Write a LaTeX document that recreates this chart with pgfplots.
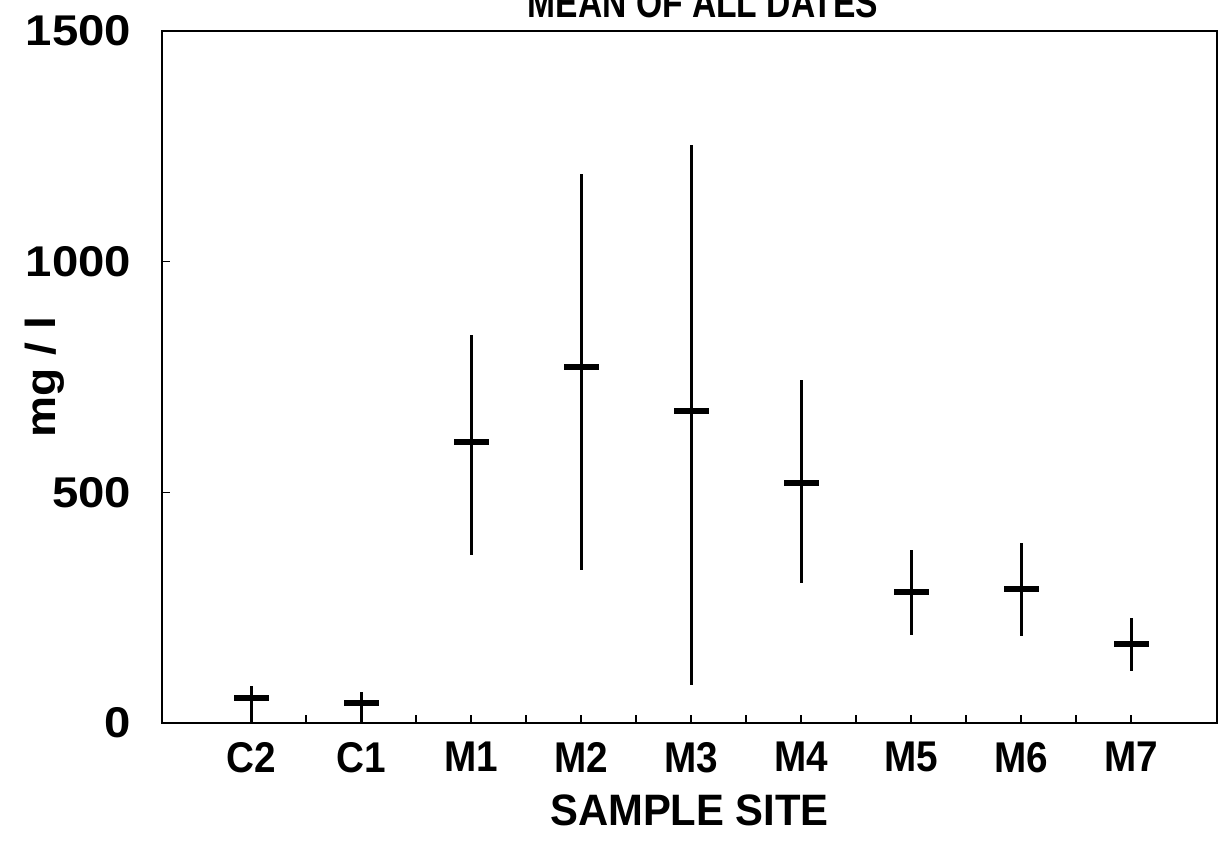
\documentclass[border=0pt]{standalone}
\usepackage{pgfplots}
\pgfplotsset{compat=1.18}
\usepackage{fontspec}
\setmainfont{Liberation Sans}
\newfontfamily\condfont[FakeStretch=0.9]{Liberation Sans}
\newfontfamily\xlabfont[FakeStretch=0.95]{Liberation Sans}
\newfontfamily\titlefont[FakeStretch=0.8]{Liberation Sans}
\newfontfamily\widefont[FakeStretch=1.1]{Liberation Sans}
\begin{document}
\begin{tikzpicture}
\useasboundingbox (0,0) rectangle (611.5pt,425.5pt);
\begin{axis}[
  at={(81pt,64pt)}, anchor=south west,
  width=527.5pt, height=346pt, scale only axis,
  xmin=-0.81, xmax=8.78, ymin=0, ymax=1500,
  axis line style={line width=1.4pt},
  xtick={0,...,8},
  xticklabels={C2,C1,M1,M2,M3,M4,M5,M6,M7},
  minor xtick={0.5,1.5,...,7.5},
  ytick={0,500,1000,1500},
  tick align=inside,
  major tick length=4pt, minor tick length=4pt,
  tick style={line width=0.8pt, black},
  xtick pos=bottom, ytick pos=left,
  /pgf/number format/assume math mode=true,
  /pgf/number format/1000 sep={},
  yticklabel style={font=\fontsize{21.5}{24}\selectfont\widefont\bfseries, xshift=-12pt},
  xticklabel style={font=\fontsize{21.5}{24}\selectfont\condfont\bfseries, yshift=-6pt},
  xlabel={SAMPLE SITE},
  ylabel={mg / l},
  xlabel style={font=\fontsize{22}{24}\selectfont\xlabfont\bfseries, yshift=-4pt},
  ylabel style={font=\fontsize{21}{24}\selectfont\widefont\bfseries, at={(axis description cs:-0.111,0.5)}, anchor=center},
]
\addplot[black, only marks, mark=-, mark size=8.75pt,
  mark options={line width=2.9pt},
  error bars/.cd, y dir=both, y explicit, error mark=none,
  error bar style={line width=1.4pt, black}]
  table[x=x, y=y, y error plus=ep, y error minus=em] {
x y ep em
0 54 26 54
1 43 24 43
2 609 232 245
3 772 418 440
4 676 577 594
5 520 224 217
6 284 91 93
7 290 100 101
8 171 57 58
};
\end{axis}
\begin{scope}
\clip (0,0) rectangle (611.5pt,425.5pt);
\node[font=\fontsize{21}{24}\selectfont\titlefont\bfseries, anchor=base] at (351.5pt,416.5pt) {MEAN OF ALL DATES};
\end{scope}
\end{tikzpicture}
\end{document}
